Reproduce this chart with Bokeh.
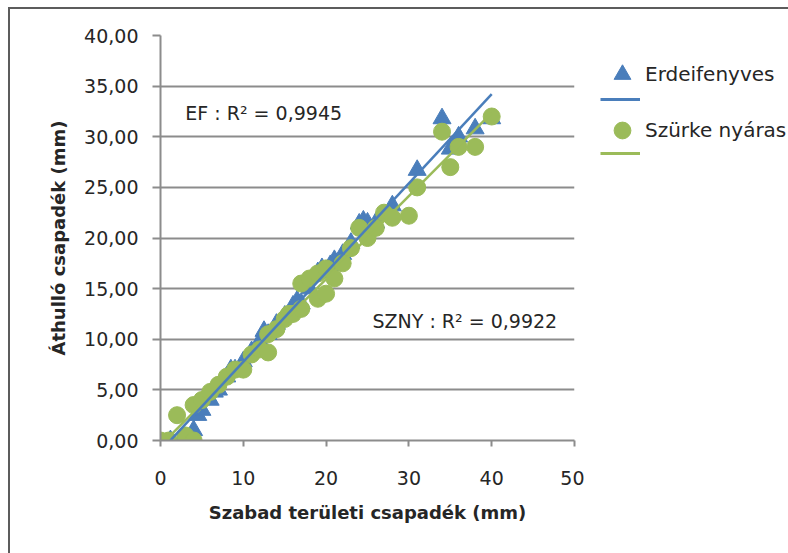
import numpy as np
from bokeh.plotting import figure
from bokeh.layouts import row
from bokeh.models import FixedTicker, Legend, LegendItem, Range1d, Label
from bokeh.embed import file_html
from bokeh.resources import INLINE

# ---------------- data ----------------
ef_x = [1.2, 2.5, 3, 4, 4.5, 5, 6, 6.5, 7, 8, 8.5, 9, 10, 11, 12, 12.5, 13, 14, 15,
        16, 16.5, 17, 18, 19, 19.5, 20, 20.5, 21, 22, 23, 24, 24.5, 25, 26, 27, 28,
        31, 34, 35, 36, 38, 40]
ef_y = [0, 0, 0.3, 1.0, 2.5, 3.0, 4.0, 4.8, 5.0, 6.3, 7.0, 7.0, 7.8, 8.8, 9.8, 10.8,
        10.5, 11.5, 12.3, 13.3, 13.8, 13.5, 15.0, 16.6, 17.0, 16.8, 17.3, 17.8, 18.4,
        19.5, 21.4, 21.7, 21.5, 21.5, 22.2, 23.2, 26.7, 31.8, 28.8, 30.0, 30.8, 31.8]

sz_x = [0, 1, 2, 3, 4, 4, 5, 6, 7, 8, 9, 10, 11, 12, 13, 13, 14, 15, 15.5, 16, 17, 17,
        18, 19, 19, 20, 20, 21, 22, 23, 24, 25, 26, 27, 28, 30, 31, 34, 35, 36, 38, 40]
sz_y = [0, 0, 2.5, 0.5, 0, 3.5, 4.0, 4.8, 5.5, 6.3, 7.0, 7.0, 8.5, 9.0, 8.7, 10.5, 11.0,
        12.0, 12.5, 12.5, 13.0, 15.5, 16.0, 14.0, 16.5, 14.5, 17.0, 16.0, 17.5, 19.0,
        21.0, 20.0, 21.0, 22.5, 22.0, 22.2, 25.0, 30.5, 27.0, 29.0, 29.0, 32.0]

series_names = ["Erdeifenyves", "Szürke nyáras"]
x_ticks = [0, 10, 20, 30, 40, 50]
y_ticks = [0, 5, 10, 15, 20, 25, 30, 35, 40]
y_tick_labels = ["0,00", "5,00", "10,00", "15,00", "20,00", "25,00", "30,00", "35,00", "40,00"]
ef_r2_text = "EF : R\u00b2 = 0,9945"
sz_r2_text = "SZNY : R\u00b2 = 0,9922"
ef_r2_pos = (3.0, 32.3)
sz_r2_pos = (25.6, 11.85)
x_title = "Szabad területi csapadék (mm)"
y_title = "Áthulló csapadék (mm)"

# ---------------- style ----------------
FONT = "DejaVu Sans"
BLUE = "#4A7EBB"
GREEN = "#9BBB59"
GRID = "#8C8C8C"
TXT = "#262626"
H = 544

p = figure(width=574, height=H, x_range=Range1d(0, 50), y_range=Range1d(0, 40),
           output_backend="svg", toolbar_location=None,
           min_border_left=150, min_border_right=10, min_border_top=26,
           min_border_bottom=113)
p.outline_line_color = None
p.background_fill_color = "white"
p.border_fill_color = "white"

p.xgrid.grid_line_color = None
p.ygrid.grid_line_color = GRID
p.ygrid.grid_line_width = 2

p.xaxis.ticker = FixedTicker(ticks=x_ticks)
p.yaxis.ticker = FixedTicker(ticks=y_ticks)
p.yaxis.major_label_overrides = {t: l for t, l in zip(y_ticks, y_tick_labels)}
for ax in (p.xaxis[0], p.yaxis[0]):
    ax.axis_line_color = GRID
    ax.axis_line_width = 2
    ax.major_tick_line_color = GRID
    ax.major_tick_line_width = 2
    ax.major_tick_in = 0
    ax.minor_tick_line_color = None
    ax.major_label_text_font = FONT
    ax.major_label_text_font_size = "19px"
    ax.major_label_text_color = TXT
    ax.axis_label_text_font = FONT
    ax.axis_label_text_font_size = "18px"
    ax.axis_label_text_font_style = "bold"
    ax.axis_label_text_color = TXT
p.xaxis.major_tick_out = 6
p.yaxis.major_tick_out = 8
p.xaxis.major_label_standoff = 24
p.yaxis.major_label_standoff = 14
p.xaxis.axis_label = x_title
p.yaxis.axis_label = y_title
p.xaxis.axis_label_standoff = 14
p.yaxis.axis_label_standoff = 12

tri = p.scatter(ef_x, ef_y, marker="triangle", size=18, fill_color=BLUE,
                line_color=BLUE, line_width=1)
cir = p.scatter(sz_x, sz_y, marker="circle", size=17, fill_color=GREEN,
                line_color=GREEN, line_width=1)

def trend(xs, ys):
    k, b = np.polyfit(np.array(xs, float), np.array(ys, float), 1)
    xx = [min(xs), max(xs)]
    return xx, [k * v + b for v in xx]

sx, sy = trend(sz_x, sz_y)
ex, ey = trend(ef_x, ef_y)
gl = p.line(sx, sy, line_color=GREEN, line_width=2.5)
bl = p.line(ex, ey, line_color=BLUE, line_width=2.5)

p.add_layout(Label(x=ef_r2_pos[0], y=ef_r2_pos[1], text=ef_r2_text, text_font=FONT,
                   text_font_size="19px", text_color=TXT, text_baseline="middle"))
p.add_layout(Label(x=sz_r2_pos[0], y=sz_r2_pos[1], text=sz_r2_text, text_font=FONT,
                   text_font_size="19px", text_color=TXT, text_baseline="middle"))

# ---------------- legend panel (separate canvas to the right) ----------------
# the same series are drawn here, but the range excludes them, so only the
# legend swatches show
lg = figure(width=204, height=H, x_range=Range1d(-20, -10), y_range=Range1d(-20, -10),
            output_backend="svg", toolbar_location=None,
            min_border=0, min_border_left=0, min_border_right=0,
            min_border_top=26, min_border_bottom=113)
lg.axis.visible = False
lg.grid.visible = False
lg.outline_line_color = None
lg.border_fill_color = "white"
lg.background_fill_color = "white"

l_tri = lg.scatter(ef_x, ef_y, marker="triangle", size=18, fill_color=BLUE, line_color=BLUE)
l_bl = lg.line(ex, ey, line_color=BLUE, line_width=3)
l_cir = lg.scatter(sz_x, sz_y, marker="circle", size=17, fill_color=GREEN, line_color=GREEN)
l_gl = lg.line(sx, sy, line_color=GREEN, line_width=3)

def mk_legend(label, rend, loc, marker):
    kw = dict(glyph_width=42, glyph_height=42, label_height=42,
              label_text_font_size="20px") if marker else \
         dict(glyph_width=40, glyph_height=10, label_height=10,
              label_text_font_size="1px")
    leg = Legend(items=[LegendItem(label=label, renderers=[rend])], location=loc,
                 label_text_font=FONT, label_text_color=TXT, label_standoff=2,
                 padding=0, margin=0, spacing=0, border_line_color=None,
                 background_fill_alpha=0, **kw)
    lg.add_layout(leg)

# locations measured from the bottom-left of the (aligned) frame: bottom at y=440
mk_legend(series_names[0], l_tri, (17, 345), True)
mk_legend(" ", l_bl, (16, 336), False)
mk_legend(series_names[1], l_cir, (17, 289), True)
mk_legend(" ", l_gl, (16, 282), False)

layout = row(p, lg, spacing=0)
layout.styles = {"margin-left": "8px", "margin-top": "7px",
                 "border-top": "2px solid #5c5c5c", "border-left": "2px solid #5c5c5c"}

open("out.html", "w").write(file_html(layout, INLINE))
